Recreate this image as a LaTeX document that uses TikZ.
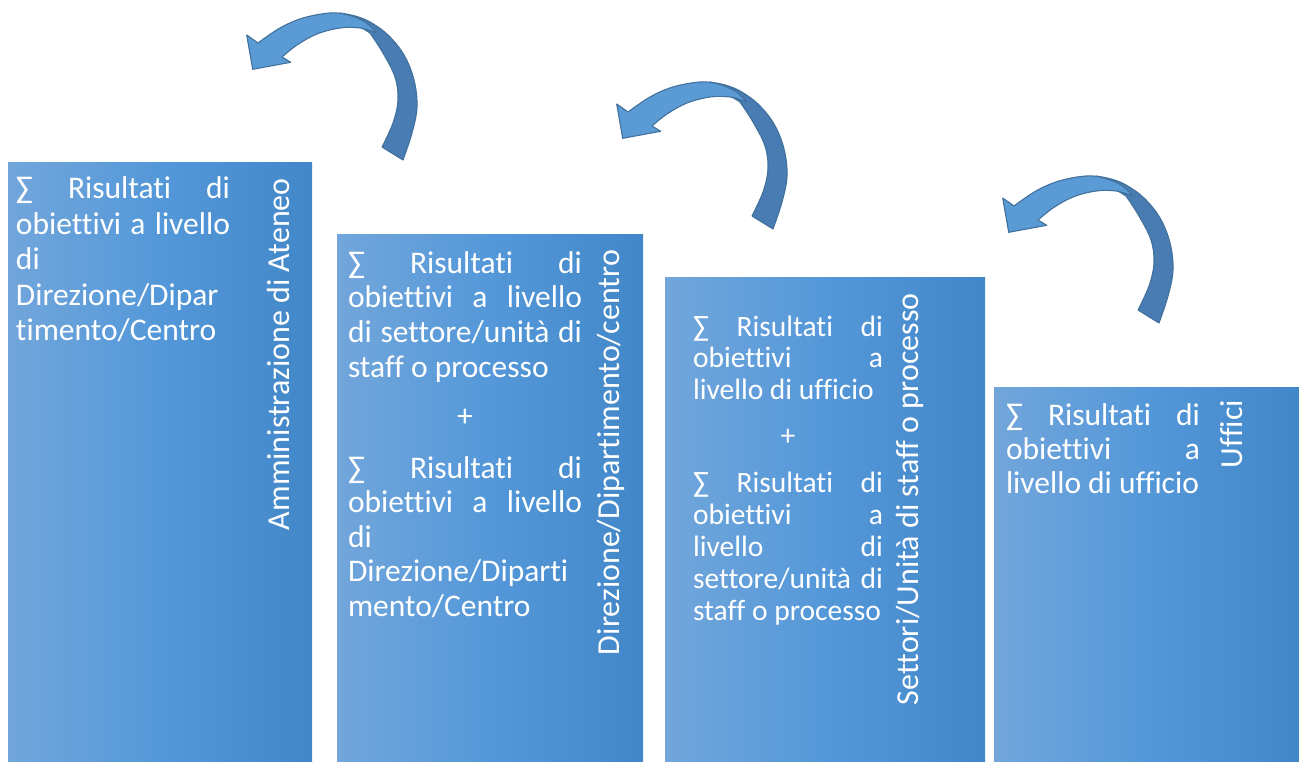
\documentclass[tikz,border=0pt]{standalone}
\usepackage{fontspec}
\setmainfont{Carlito}[Ligatures={NoCommon}]
\definecolor{colL}{RGB}{114,166,219}
\definecolor{colM}{RGB}{84,152,217}
\definecolor{colR}{RGB}{66,135,199}
\definecolor{arrowLight}{RGB}{91,155,213}
\definecolor{arrowDark}{RGB}{72,124,178}
\definecolor{arrowEdge}{RGB}{65,113,156}
% one justified line of a text block
\newcommand{\jline}[1]{\hbox to\hsize{#1}}
\newcommand{\nline}[1]{\hbox{#1}}
\tikzset{
  column/.style={left color=colL, right color=colR, middle color=colM,
    inner sep=0pt, outer sep=0pt, anchor=north west},
  txt/.style={text=white, inner sep=0pt, outer sep=0pt, anchor=base west},
  plus/.style={text=white, inner sep=0pt, outer sep=0pt, anchor=center},
  vtxt/.style={text=white, inner sep=0pt, outer sep=0pt, anchor=base west,
    rotate=90, font=\fontsize{32}{38}\selectfont},
  arrowpart/.style={draw=arrowEdge, line width=1.1pt, line join=round},
  curvedarrow/.pic={
    % back (darker) part of the ribbon, from the tail up to the top
    \path[arrowpart, fill=arrowDark]
      (152,147) -- plot[smooth, tension=0.6] coordinates
        {(152,147) (163,123) (168,100) (165,77) (153,53) (140,33)}
      -- (110,14)
      -- plot[smooth, tension=0.6] coordinates
        {(110,13) (125,16) (140,22) (158,35) (174,55) (184,80) (187,107) (182,133) (173,160)}
      -- cycle;
    % front (lighter) part with the head
    \path[arrowpart, fill=arrowLight]
      plot[smooth, tension=0.6] coordinates
        {(147,33) (135,22) (118,15) (100,13) (73,18) (50,28) (28,43)}
      -- (16.7,35) -- (22.7,69.3) -- (60.7,62.3) -- (52,57)
      -- plot[smooth, tension=0.6] coordinates
        {(52,57) (67,45) (87,34) (110,28) (130,28) (147,33)}
      -- cycle;
  }
}
\begin{document}
\begin{tikzpicture}[x=1pt, y=-1pt]
\fill[white] (0,0) rectangle (1299,762);
\useasboundingbox (0,0) rectangle (1299,762);

% columns
\node[column, minimum width=304pt, minimum height=599pt] (c1) at (8,163) {};
\node[column, minimum width=306pt, minimum height=527pt] (c2) at (337,235) {};
\node[column, minimum width=320pt, minimum height=484pt] (c3) at (665,278) {};
\node[column, minimum width=305pt, minimum height=375pt] (c4) at (994,387) {};

% text of the first column
\node[txt] (t1) at (16,199) {\parbox[t]{214pt}{\fontsize{31.5}{35.5}\selectfont
  \jline{∑\hfill Risultati\hfill di}
  \jline{obiettivi\hfill a\hfill livello}
  \nline{di}
  \nline{Direzione/Dipar}
  \nline{timento/Centro}}};

% text of the second column
\node[txt] (t2a) at (348,273) {\parbox[t]{234pt}{\fontsize{31.5}{34.7}\selectfont
  \jline{∑\hfill Risultati\hfill di}
  \jline{obiettivi\hfill a\hfill livello}
  \jline{di\hfill settore/unità\hfill di}
  \nline{staff o processo}}};
\node[plus, font=\fontsize{31.5}{34}\selectfont] (p2) at (465,418) {+};
\node[txt] (t2b) at (348,478) {\parbox[t]{234pt}{\fontsize{31.5}{34.5}\selectfont
  \jline{∑\hfill Risultati\hfill di}
  \jline{obiettivi\hfill a\hfill livello}
  \nline{di}
  \nline{Direzione/Diparti}
  \nline{mento/Centro}}};

% text of the third column
\node[txt] (t3a) at (693,336) {\parbox[t]{190pt}{\fontsize{29.5}{31.7}\selectfont
  \jline{∑\hfill Risultati\hfill di}
  \jline{obiettivi\hfill a}
  \nline{livello di ufficio}}};
\node[plus, font=\fontsize{29.5}{32}\selectfont] (p3) at (788,437) {+};
\node[txt] (t3b) at (693,492) {\parbox[t]{190pt}{\fontsize{29.5}{32}\selectfont
  \jline{∑\hfill Risultati\hfill di}
  \jline{obiettivi\hfill a}
  \jline{livello\hfill di}
  \jline{settore/unità\hfill di}
  \nline{staff o processo}}};

% text of the fourth column
\node[txt] (t4) at (1006,425) {\parbox[t]{194pt}{\fontsize{31.5}{34}\selectfont
  \jline{∑\hfill Risultati\hfill di}
  \jline{obiettivi\hfill a}
  \nline{livello di ufficio}}};

% vertical titles
\node[vtxt] (v1) at (289,530) {Amministrazione di Ateneo};
\node[vtxt] (v2) at (619,655) {Direzione/Dipartimento/centro};
\node[vtxt] (v3) at (918,705) {Settori/Unità di staff o processo};
\node[vtxt] (v4) at (1242,468) {Uffici};

% curved arrows between the levels
\pic at (230,0) {curvedarrow};
\pic at (600,69) {curvedarrow};
\pic at (986,163) {curvedarrow};
\end{tikzpicture}
\end{document}
